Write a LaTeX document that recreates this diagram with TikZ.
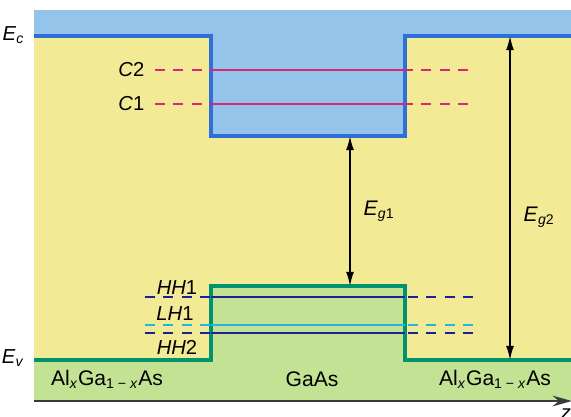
\documentclass[tikz,border=0pt]{standalone}
\usepackage{fontspec}
\setmainfont{Liberation Sans}
\usetikzlibrary{arrows.meta}
\definecolor{cbfill}{HTML}{94C4EA}
\definecolor{cbline}{HTML}{2E6FD9}
\definecolor{gapfill}{HTML}{F2EA94}
\definecolor{vbfill}{HTML}{C4E294}
\definecolor{vbline}{HTML}{00936E}
\definecolor{elevel}{HTML}{D9267A}
\definecolor{hhlevel}{HTML}{1F1F99}
\definecolor{lhlevel}{HTML}{22B5DD}
\definecolor{axisgray}{HTML}{3A3A3A}

\begin{document}
\begin{tikzpicture}[x=0.02cm, y=-0.02cm, line width=1pt,
        bandline/.style={line width=2.3pt, line join=miter},
        lvl/.style={line width=1.3pt},
        lvldash/.style={line width=1.3pt, dash pattern=on 5.5pt off 5pt},
        gaparrow/.style={line width=0.9pt, {Latex[length=8pt,width=4.5pt]}-{Latex[length=8pt,width=4.5pt]}},
        lbl/.style={font=\fontsize{11.5}{13}\selectfont},
        biglbl/.style={font=\fontsize{12}{14}\selectfont}]

        \useasboundingbox (0,0) rectangle (571,416);

        % Band fills
        \fill[cbfill] (34,10) -- (571,10) -- (571,36) -- (405,36) -- (405,136)
            -- (211,136) -- (211,36) -- (34,36) -- cycle;
        \fill[gapfill] (34,36) -- (211,36) -- (211,136) -- (405,136) -- (405,36)
            -- (571,36) -- (571,360) -- (405,360) -- (405,286) -- (211,286)
            -- (211,360) -- (34,360) -- cycle;
        \fill[vbfill] (34,360) -- (211,360) -- (211,286) -- (405,286) -- (405,360)
            -- (571,360) -- (571,400) -- (34,400) -- cycle;

        % Band edges
        \draw[bandline, cbline] (34,36) -- (211,36) -- (211,136) -- (405,136)
            -- (405,36) -- (571,36);
        \draw[bandline, vbline] (34,360) -- (211,360) -- (211,286) -- (405,286)
            -- (405,360) -- (571,360);

        % Confined levels
        \draw[lvldash, elevel] (155,70) -- (211,70);
        \draw[lvl, elevel] (211,70) -- (405,70);
        \draw[lvldash, elevel] (468,70) -- (405,70);
        \draw[lvldash, elevel] (155,104) -- (211,104);
        \draw[lvl, elevel] (211,104) -- (405,104);
        \draw[lvldash, elevel] (468,104) -- (405,104);

        \draw[lvldash, hhlevel] (145,297) -- (211,297);
        \draw[lvl, hhlevel] (211,297) -- (405,297);
        \draw[lvldash, hhlevel] (473,297) -- (405,297);
        \draw[lvldash, lhlevel] (145,325) -- (211,325);
        \draw[lvl, lhlevel] (211,325) -- (405,325);
        \draw[lvldash, lhlevel] (473,325) -- (405,325);
        \draw[lvldash, hhlevel] (145,333) -- (211,333);
        \draw[lvl, hhlevel] (211,333) -- (405,333);
        \draw[lvldash, hhlevel] (473,333) -- (405,333);

        % Gap arrows
        \coordinate (G1top) at (350,136);
        \coordinate (G1bot) at (350,286);
        \coordinate (G2top) at (510,36);
        \coordinate (G2bot) at (510,360);
        \draw[gaparrow] (G1top) -- (G1bot);
        \draw[gaparrow] (G2top) -- (G2bot);

        % z axis
        \coordinate (Z0) at (34,401);
        \coordinate (Z1) at (572,401);
        \draw[line width=1.6pt, axisgray, -{Stealth[length=11pt,width=6pt]}] (Z0) -- (Z1);

        % Labels
        \node[lbl, anchor=east] (Ec) at (31,35) {\textit{E}\textsubscript{\textit{c}}};
        \node[lbl, anchor=east] (Ev) at (31,358) {\textit{E}\textsubscript{\textit{v}}};
        \node[lbl, anchor=east] (C2) at (151,70) {\textit{C}2};
        \node[lbl, anchor=east] (C1) at (151,104) {\textit{C}1};
        \node[lbl] (HH1) at (177,288) {\textit{HH}1};
        \node[lbl] (LH1) at (175,314) {\textit{LH}1};
        \node[lbl] (HH2) at (177,347) {\textit{HH}2};
        \node[biglbl, anchor=west] (Eg1) at (357,211) {\textit{E}\textsubscript{\textit{g}1}};
        \node[biglbl, anchor=west] (Eg2) at (517,217) {\textit{E}\textsubscript{\textit{g}2}};

        \node[biglbl] (left) at (107,379) {Al\textsubscript{\textit{x}}Ga\textsubscript{1 − \textit{x}}As};
        \node[biglbl] (well) at (312,379) {GaAs};
        \node[biglbl] (right) at (495,379) {Al\textsubscript{\textit{x}}Ga\textsubscript{1 − \textit{x}}As};
        \node[lbl, anchor=north, inner sep=0pt] (z) at (566,408) {\textit{z}};

\end{tikzpicture}
\end{document}
